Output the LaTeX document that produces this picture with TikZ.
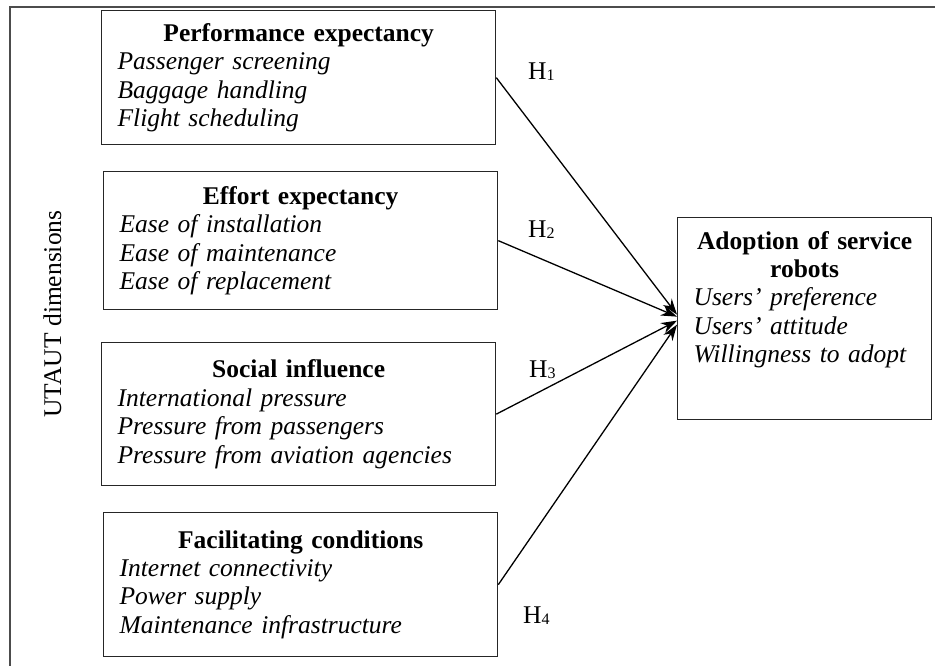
\documentclass[tikz,border=0pt]{standalone}
\usepackage{fontspec}
\setmainfont{Liberation Serif}
\usetikzlibrary{arrows.meta}
\newcommand\hyp[1]{H\raisebox{-1pt}{\fontsize{16}{16}\selectfont #1}}
\begin{document}
\begin{tikzpicture}[x=1pt,y=-1pt,
  every node/.style={font=\fontsize{25.5}{28.4}\selectfont},
  boxnode/.style={draw=black!85, line width=1.3pt, rectangle, anchor=north west,
    inner xsep=16pt, inner ysep=0pt, text width=362pt, align=left, minimum width=394pt},
  arr/.style={line width=1.3pt, -{Stealth[length=16pt,width=11pt]}},
  hlab/.style={anchor=base west, inner sep=0pt}
]
\useasboundingbox (0,0) rectangle (935,666);
% frame
\coordinate (fa) at (935,7);
\coordinate (fb) at (10,7);
\coordinate (fc) at (10,666);
\draw[line width=1.3pt, draw=black!70] (fa) -- (fb) -- (fc);

\node[rotate=90, anchor=base, inner sep=0pt] (dim) at (61,314) {UTAUT dimensions};

\node[boxnode, minimum height=134pt] (pe) at (101,10)
  {{\centering\bfseries Performance expectancy\par}\itshape Passenger screening\\Baggage handling\\Flight scheduling};
\node[boxnode, minimum height=138pt] (ee) at (103,171)
  {{\centering\bfseries Effort expectancy\par}\itshape Ease of installation\\Ease of maintenance\\Ease of replacement};
\node[boxnode, minimum height=143pt] (si) at (101,342)
  {{\centering\bfseries Social influence\par}\itshape International pressure\\Pressure from passengers\\Pressure from aviation agencies};
\node[boxnode, minimum height=144pt] (fcn) at (103,512)
  {{\centering\bfseries Facilitating conditions\par}\itshape Internet connectivity\\Power supply\\Maintenance infrastructure};

\node[draw=black!85, line width=1.3pt, rectangle, anchor=north west, minimum width=254pt, minimum height=202pt, inner sep=0pt] (ad) at (677,217) {};
\node[anchor=north, inner sep=0pt, text width=222pt, align=left] (adt) at ([yshift=-14pt]ad.north)
  {{\centering\bfseries Adoption of service\\robots\par}\itshape Users' preference\\Users' attitude\\Willingness to adopt};

\draw[arr] (pe.east) -- ([yshift=4pt]ad.west);
\draw[arr] (ee.east) -- ([yshift=2pt]ad.west);
\draw[arr] (si.east) -- ([yshift=-2pt]ad.west);
\draw[arr] (fcn.east) -- ([yshift=-6pt]ad.west);

\node[hlab] (h1) at (528,80) {\hyp{1}};
\node[hlab] (h2) at (528,237) {\hyp{2}};
\node[hlab] (h3) at (529,377) {\hyp{3}};
\node[hlab] (h4) at (523,623) {\hyp{4}};
\end{tikzpicture}
\end{document}
